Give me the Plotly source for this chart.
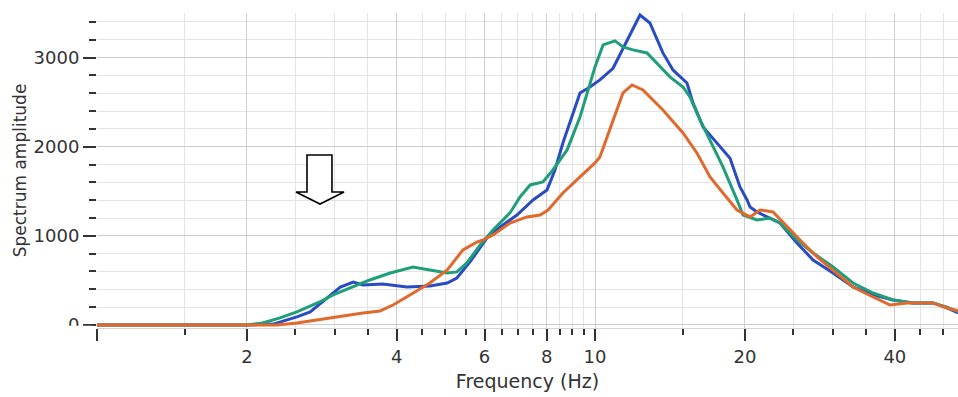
import plotly.graph_objects as go

# Spectrum amplitude against frequency (Hz) for three records
freq_blue = [1.0, 2.0, 2.26, 2.52, 2.68, 2.94, 3.08, 3.27, 3.42, 3.75, 4.19, 4.66, 5.05,
             5.28, 5.61, 6.07, 6.45, 6.97, 7.51, 8.01, 8.31, 8.62, 9.03, 9.33, 9.77,
             10.23, 10.87, 11.59, 12.31, 12.89, 13.69, 14.34, 15.30, 15.73, 16.48, 17.58,
             18.67, 19.55, 20.20, 20.48, 21.15, 22.15, 23.52, 25.44, 27.41, 30.06, 32.97,
             36.16, 39.67, 43.51, 47.71, 50.92, 53.57]
amp_blue = [0, 0, 10, 90, 146, 337, 426, 482, 449, 460, 426, 437, 471,
            527, 707, 976, 1100, 1234, 1403, 1515, 1739, 2042, 2379, 2603, 2670,
            2749, 2880, 3198, 3478, 3388, 3052, 2861, 2715, 2491, 2222, 2040,
            1870, 1548, 1403, 1324, 1268, 1212, 1144, 920, 729, 583, 426,
            337, 280, 247, 247, 191, 135]

freq_green = [1.0, 2.0, 2.15, 2.33, 2.52, 2.68, 2.80, 2.98, 3.22, 3.53, 3.88, 4.31, 4.66,
              5.05, 5.28, 5.53, 5.88, 6.24, 6.75, 7.07, 7.41, 7.86, 8.23, 8.79, 9.33,
              9.68, 10.0, 10.38, 10.97, 11.38, 11.92, 12.72, 13.32, 14.14, 15.02, 15.51,
              16.25, 17.02, 18.07, 19.28, 19.83, 21.15, 22.46, 23.52, 25.44, 27.41,
              30.06, 32.97, 36.16, 39.67, 43.51, 47.71, 50.92, 53.57]
amp_green = [0, 0, 22, 79, 146, 213, 258, 337, 415, 505, 583, 651, 617,
             583, 595, 696, 898, 1066, 1257, 1436, 1571, 1604, 1739, 1964, 2334,
             2637, 2895, 3142, 3187, 3119, 3086, 3052, 2940, 2783, 2670, 2558,
             2300, 2076, 1773, 1403, 1234, 1178, 1200, 1144, 954, 808,
             651, 471, 359, 280, 247, 247, 200, 150]

freq_orange = [1.0, 2.3, 2.52, 2.77, 3.08, 3.42, 3.70, 3.93, 4.25, 4.66, 5.05, 5.43, 5.80,
               5.96, 6.24, 6.75, 7.30, 7.76, 8.05, 8.62, 9.33, 10.0, 10.23, 10.72, 11.38,
               11.87, 12.48, 13.69, 15.02, 16.02, 17.02, 18.07, 19.28, 20.48, 21.45,
               22.78, 24.30, 25.80, 27.92, 30.06, 32.97, 36.16, 39.13, 42.31, 44.94,
               47.71, 50.92, 53.57]
amp_orange = [0, 0, 22, 56, 101, 135, 157, 224, 337, 471, 617, 842, 931,
              954, 1010, 1144, 1212, 1234, 1290, 1481, 1661, 1818, 1885, 2200, 2603,
              2693, 2637, 2412, 2154, 1930, 1661, 1481, 1290, 1212, 1290,
              1268, 1100, 954, 763, 617, 426, 314, 224, 247, 247,
              247, 191, 160]

# Axis ticks
freq_major = [1, 2, 4, 6, 8, 10, 20, 40]
freq_major_text = ["", "2", "4", "6", "8", "10", "20", "40"]
freq_minor = [1.5, 2.5, 3, 3.5, 4.5, 5, 5.5, 6.5, 7, 7.5, 8.5, 9, 9.5,
              15, 25, 30, 35, 45, 50]
amp_major = [0, 1000, 2000, 3000]
amp_minor = [200, 400, 600, 800, 1200, 1400, 1600, 1800, 2200, 2400, 2600, 2800,
             3200, 3400]

fig = go.Figure()
series = [
    (freq_blue, amp_blue, "#2a4cc3"),
    (freq_green, amp_green, "#1f9e7a"),
    (freq_orange, amp_orange, "#e0692b"),
]
for fx, fy, col in series:
    fig.add_trace(go.Scatter(x=fx, y=fy, mode="lines",
                             line=dict(color=col, width=3),
                             showlegend=False, hoverinfo="skip"))

font_family = "DejaVu Sans"
text_col = "#333333"
tick_col = "#333333"

fig.update_layout(
    width=958, height=397,
    margin=dict(l=97, r=0, t=13, b=69),
    paper_bgcolor="white", plot_bgcolor="white",
    font=dict(family=font_family, color=text_col),
    xaxis=dict(
        type="log", range=[0, 1.7289],
        tickmode="array", tickvals=freq_major, ticktext=freq_major_text,
        ticks="outside", ticklen=12, tickwidth=2, tickcolor=tick_col,
        tickfont=dict(size=18, color=text_col),
        showgrid=True, gridcolor="#cfcfcf", gridwidth=1,
        showline=True, linecolor="#d4d4d4", linewidth=1,
        zeroline=False,
        minor=dict(tickmode="array", tickvals=freq_minor, ticks="outside",
                   ticklen=6, tickwidth=2, tickcolor=tick_col,
                   showgrid=True, gridcolor="#e3e3e3", gridwidth=1),
        title=dict(text="Frequency (Hz)", font=dict(size=19, color=text_col),
                   standoff=9),
    ),
    yaxis=dict(
        range=[-34, 3500],
        tickmode="array", tickvals=amp_major,
        ticks="outside", ticklen=13, tickwidth=2, tickcolor=tick_col,
        tickfont=dict(size=18, color=text_col),
        showgrid=True, gridcolor="#cccccc", gridwidth=1,
        zeroline=False, showline=False,
        minor=dict(tickmode="array", tickvals=amp_minor, ticks="outside",
                   ticklen=7, tickwidth=2, tickcolor=tick_col,
                   showgrid=True, gridcolor="#e3e3e3", gridwidth=1),
        title=dict(text="Spectrum amplitude", font=dict(size=17, color=text_col),
                   standoff=2),
    ),
)

# Hollow downward arrow marker
arrow_path = ("M 0.2439 0.5492 L 0.2729 0.5492 L 0.2729 0.4317 L 0.2869 0.4317 "
              "L 0.2590 0.3937 L 0.2311 0.4317 L 0.2439 0.4317 Z")
fig.add_shape(type="path", path=arrow_path, xref="paper", yref="paper",
              line=dict(color="black", width=1.6), fillcolor="white", layer="above")

# Lower edge of the zero label is hidden by the axis band
fig.add_shape(type="rect", xref="paper", yref="paper",
              x0=-0.12, x1=-0.005, y0=-0.06, y1=0.007,
              line=dict(width=0), fillcolor="white", layer="above")

fig.write_html("out.html")
